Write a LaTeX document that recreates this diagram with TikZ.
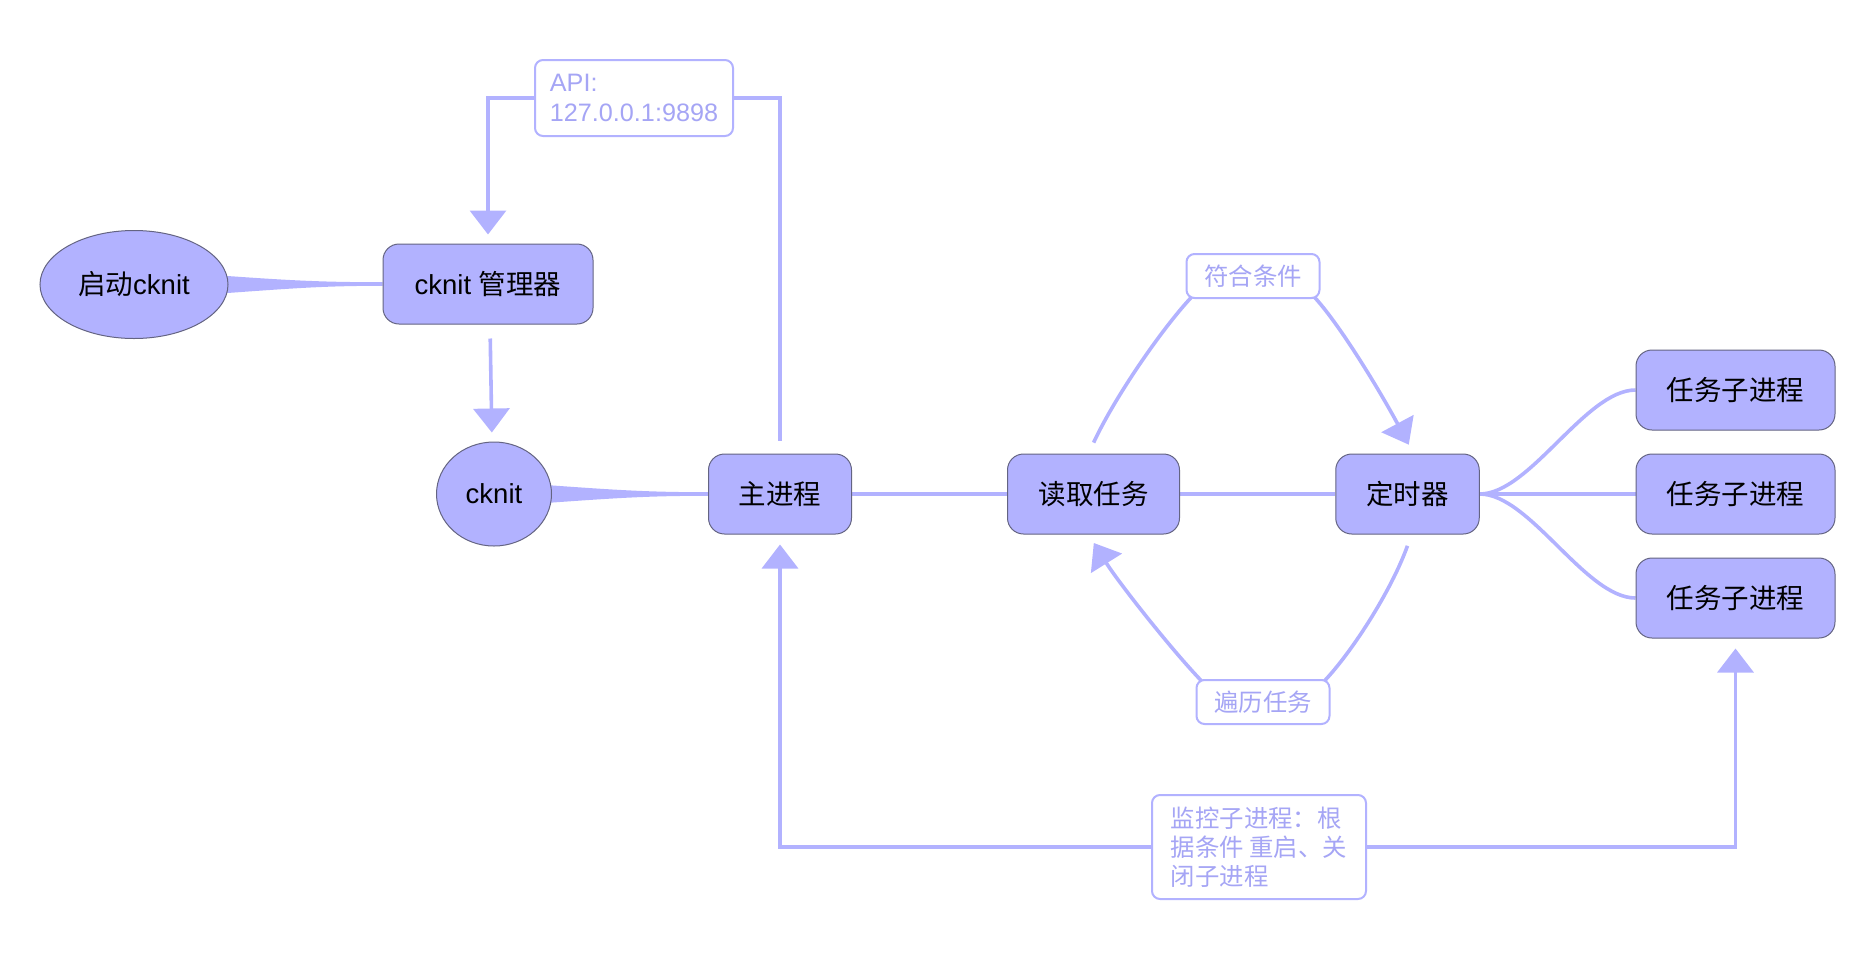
\documentclass[tikz,border=0pt]{standalone}
\usepackage{fontspec}
\setmainfont{Liberation Sans}
\newfontfamily\cjk{Noto Sans CJK SC}
\usetikzlibrary{arrows.meta,shapes.geometric,calc,backgrounds}
\definecolor{nodefill}{RGB}{178,178,255}
\definecolor{nodeline}{RGB}{100,100,130}
\definecolor{linec}{RGB}{178,178,255}
\definecolor{labtext}{RGB}{165,165,245}
\begin{document}
\begin{tikzpicture}[x=0.5pt,y=-0.5pt,
  box/.style={draw=nodeline, line width=0.5pt, fill=nodefill, rounded corners=8pt,
    minimum height=40pt, inner sep=0pt, text=black,
    font=\fontsize{13.75pt}{16pt}\selectfont},
  oval/.style={ellipse, draw=nodeline, line width=0.5pt, fill=nodefill, inner sep=0pt,
    text=black, font=\fontsize{13.75pt}{16pt}\selectfont},
  lab/.style={draw=linec, line width=1pt, fill=white, rounded corners=4pt, inner sep=0pt,
    minimum width=66.5pt, minimum height=22pt, text=labtext, align=left,
    font=\fontsize{12.2pt}{14.6pt}\selectfont},
  edge/.style={draw=linec, line width=1.8pt},
  arr/.style={-{Triangle[length=12pt,width=18pt]}},
  biarr/.style={{Triangle[length=12pt,width=18pt]}-{Triangle[length=12pt,width=18pt]}},
]
\useasboundingbox (0,0) rectangle (1876,960);

% main nodes
\node[oval, minimum width=94pt, minimum height=54pt] (start) at (134,284.5) {{\cjk 启动}cknit};
\node[box, minimum width=105pt] (mgr) at (488,284) {cknit {\cjk 管理器}};
\node[oval, minimum width=57.5pt, minimum height=52pt] (ck) at (494,494) {cknit};
\node[box, minimum width=71.5pt] (zj) at (780,494) {\cjk 主进程};
\node[box, minimum width=86pt] (rt) at (1093.5,494) {\cjk 读取任务};
\node[box, minimum width=71.75pt] (tm) at (1407.5,494) {\cjk 定时器};
\node[box, minimum width=99.5pt] (s1) at (1735.5,390) {\cjk 任务子进程};
\node[box, minimum width=99.5pt] (s2) at (1735.5,494) {\cjk 任务子进程};
\node[box, minimum width=99.5pt] (s3) at (1735.5,598) {\cjk 任务子进程};

% labels
\node[lab] (lab1) at (1253,276) {\cjk 符合条件};
\node[lab] (lab2) at (1263,702) {\cjk 遍历任务};
\node[lab, minimum width=99pt, minimum height=38pt, font=\fontsize{12.6pt}{15pt}\selectfont] (api) at (634,98) {API:\\127.0.0.1:9898};
\node[lab, minimum width=107pt, minimum height=52pt] (mon) at (1259,847)
  {\cjk 监控子进程：根\\\cjk 据条件 重启、关\\\cjk 闭子进程};

\begin{pgfonlayer}{background}
% tapered links
\fill[linec] ($(start.east)+(-8,-9)$) .. controls +(70,5) and +(-60,0) .. ($(mgr.west)+(0,-1.8)$)
  -- ($(mgr.west)+(0,1.8)$) .. controls +(-60,0) and +(70,-5) .. ($(start.east)+(-8,9)$) -- cycle;
\fill[linec] ($(ck.east)+(-6,-9)$) .. controls +(70,5) and +(-60,0) .. ($(zj.west)+(0,-1.8)$)
  -- ($(zj.west)+(0,1.8)$) .. controls +(-60,0) and +(70,-5) .. ($(ck.east)+(-6,9)$) -- cycle;

% arrows
\draw[edge, arr, shorten <=7pt, shorten >=4.5pt] ($(mgr.south)+(2,0)$) -- ($(ck.north)+(-2,0)$);
\draw[edge, arr, shorten <=6.5pt, shorten >=4.5pt] (zj.north) -- (zj.north |- api.center)
  -- (mgr.north |- api.center) -- (mgr.north);
\draw[edge, biarr, shorten <=5pt, shorten >=5pt] (zj.south) -- (zj.south |- mon.center)
  -- (s3.south |- mon.center) -- (s3.south);

% plain links
\draw[edge] (zj.east) -- (rt.west);
\draw[edge] (rt.east) -- (tm.west);
\draw[edge] (tm.east) .. controls +(50,0) and +(-50,0) .. (s1.west);
\draw[edge] (tm.east) -- (s2.west);
\draw[edge] (tm.east) .. controls +(50,0) and +(-50,0) .. (s3.west);

% curved loops
\draw[edge, arr, shorten <=6pt, shorten >=5pt] ($(rt.north)+(-5,0)$) .. controls +(28,-60) and +(-28,28) ..
  ($(lab1.south west)+(10,-6)$) -- ($(lab1.south east)+(-10,-6)$)
  .. controls +(28,28) and +(-30,-56) .. ($(tm.north)+(6,0)$);
\draw[edge, arr, shorten <=6pt, shorten >=5pt] ($(tm.south)+(4,0)$) .. controls +(-20,56) and +(30,-30) ..
  ($(lab2.north east)+(-10,6)$) -- ($(lab2.north west)+(10,6)$)
  .. controls +(-30,-30) and +(30,48) .. ($(rt.south)+(-5,0)$);
\end{pgfonlayer}
\end{tikzpicture}
\end{document}
